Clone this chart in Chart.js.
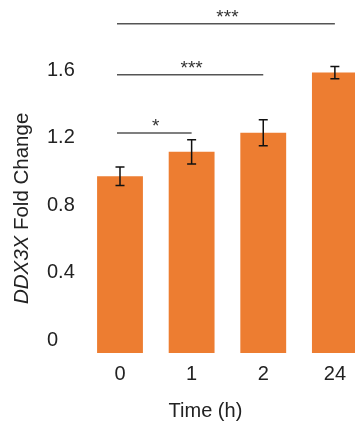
<!DOCTYPE html>
<html>
<head>
<meta charset="utf-8">
<script src="https://cdn.jsdelivr.net/npm/chart.js@4/dist/chart.umd.min.js"></script>
<style>
  html, body { margin: 0; padding: 0; background: #fff; overflow: hidden; }
  #wrap { width: 355px; height: 423px; position: relative; }
</style>
</head>
<body>
<div id="wrap"><canvas id="c"></canvas></div>
<script>
// ---- data ----
const categories = ['0', '1', '2', '24'];
const foldChange = [0.97, 1.115, 1.228, 1.585];
const errorValues = [0.055, 0.072, 0.077, 0.036];
const yTickValues = [0, 0.4, 0.8, 1.2, 1.6];
const bracketFrom = [0, 0, 0];
const bracketTo = [3, 2, 1];
const bracketLevel = [1.874, 1.572, 1.227];
const bracketLabels = ['***', '***', '*'];
const xTitle = 'Time (h)';
const yTitleItalic = 'DDX3X';
const yTitleRest = ' Fold Change';

const FONT = "'Liberation Sans', Arial, Helvetica, sans-serif";
const TEXT = '#222222';

const overlayPlugin = {
  id: 'overlay',
  afterDatasetsDraw(chart) {
    const ctx = chart.ctx;
    const xs = chart.scales.x, ys = chart.scales.y;
    // error bars
    ctx.save();
    ctx.strokeStyle = '#111';
    ctx.lineWidth = 1.5;
    foldChange.forEach((v, i) => {
      const x = xs.getPixelForValue(i);
      const yT = ys.getPixelForValue(v + errorValues[i]);
      const yB = ys.getPixelForValue(v - errorValues[i]);
      ctx.beginPath();
      ctx.moveTo(x, yT); ctx.lineTo(x, yB);
      ctx.moveTo(x - 4.5, yT); ctx.lineTo(x + 4.5, yT);
      ctx.moveTo(x - 4.5, yB); ctx.lineTo(x + 4.5, yB);
      ctx.stroke();
    });
    ctx.restore();
    // significance brackets
    ctx.save();
    ctx.strokeStyle = '#555';
    ctx.lineWidth = 1.5;
    ctx.fillStyle = '#333';
    ctx.font = '19px ' + FONT;
    ctx.textAlign = 'center';
    ctx.textBaseline = 'alphabetic';
    bracketLevel.forEach((lv, k) => {
      const x1 = xs.getPixelForValue(bracketFrom[k]);
      const x2 = xs.getPixelForValue(bracketTo[k]);
      const y = ys.getPixelForValue(lv);
      ctx.beginPath();
      ctx.moveTo(x1 - 3, y); ctx.lineTo(x2, y);
      ctx.stroke();
      ctx.fillText(bracketLabels[k], (x1 + x2) / 2, y - 1);
    });
    ctx.restore();
  },
  afterDraw(chart) {
    const ctx = chart.ctx;
    const xs = chart.scales.x, ys = chart.scales.y;
    // y title (mixed italic / normal)
    ctx.save();
    const cy = ys.getPixelForValue(0.78);
    ctx.translate(22, cy);
    ctx.rotate(-Math.PI / 2);
    ctx.fillStyle = TEXT;
    ctx.textBaseline = 'middle';
    const fItal = 'italic 20.5px ' + FONT;
    const fNorm = '20.5px ' + FONT;
    ctx.font = fItal;
    const w1 = ctx.measureText(yTitleItalic).width;
    ctx.font = fNorm;
    const w2 = ctx.measureText(yTitleRest).width;
    const start = -(w1 + w2) / 2;
    ctx.textAlign = 'left';
    ctx.font = fItal;
    ctx.fillText(yTitleItalic, start, 0);
    ctx.font = fNorm;
    ctx.fillText(yTitleRest, start + w1, 0);
    ctx.restore();
    // x title
    ctx.save();
    ctx.fillStyle = TEXT;
    ctx.font = '20px ' + FONT;
    ctx.textAlign = 'center';
    ctx.textBaseline = 'middle';
    ctx.fillText(xTitle, (xs.left + xs.right) / 2 - 22, xs.bottom - 12);
    ctx.restore();
  }
};

new Chart(document.getElementById('c'), {
  type: 'bar',
  data: {
    labels: categories,
    datasets: [{
      data: foldChange,
      backgroundColor: '#ED7D31',
      borderWidth: 0,
      base: -0.077,
      categoryPercentage: 1,
      barPercentage: 0.64,
      clip: false
    }]
  },
  options: {
    responsive: true,
    maintainAspectRatio: false,
    animation: false,
    devicePixelRatio: 1,
    layout: { padding: { left: 47, right: 20, top: 0, bottom: 0 } },
    plugins: { legend: { display: false }, tooltip: { enabled: false } },
    scales: {
      x: {
        type: 'category',
        offset: false,
        grid: { display: false, drawTicks: false },
        border: { display: false },
        ticks: { color: TEXT, font: { family: FONT, size: 20 }, padding: 9, maxRotation: 0, autoSkip: false },
        title: { display: false },
        afterFit(scale) { scale.height = 70; }
      },
      y: {
        min: -0.077,
        max: 2.015,
        grid: { display: false, drawTicks: false },
        border: { display: false },
        ticks: {
          color: TEXT,
          font: { family: FONT, size: 20 },
          crossAlign: 'far',
          padding: 0,
          callback: (v) => (v === 0 ? '0' : Number(v).toFixed(1))
        },
        afterBuildTicks(scale) { scale.ticks = yTickValues.map(v => ({ value: v })); },
        afterFit(scale) { scale.width = 73; scale.paddingTop = 0; scale.paddingBottom = 0; }
      }
    }
  },
  plugins: [overlayPlugin]
});
</script>
</body>
</html>
